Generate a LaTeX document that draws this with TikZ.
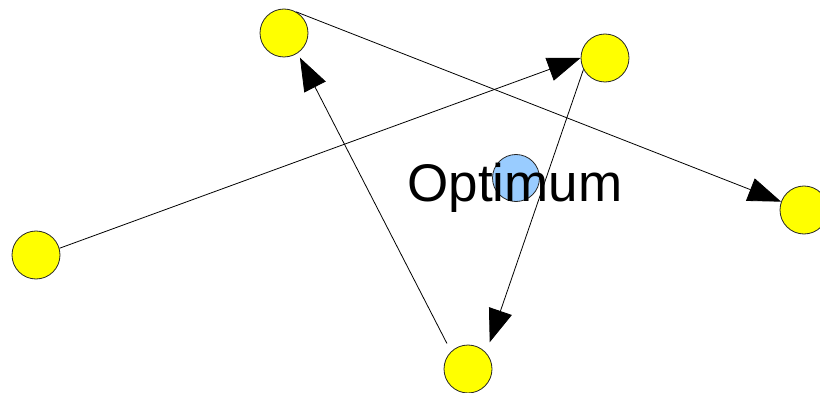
\documentclass[tikz,border=0pt]{standalone}
\usepackage{fontspec}
\setmainfont{Liberation Sans}
\usetikzlibrary{arrows.meta}
\definecolor{ballyellow}{HTML}{FFFF00}
\definecolor{optblue}{HTML}{99CCFF}
\begin{document}
\begin{tikzpicture}[x=1pt,y=-1pt,
  ball/.style={circle,draw=black!85,line width=0.8pt,fill=ballyellow,minimum size=48pt,inner sep=0pt},
  optball/.style={circle,draw=black!85,line width=0.8pt,fill=optblue,minimum size=47pt,inner sep=0pt},
  conn/.style={line width=0.8pt,-{Triangle[length=33pt,width=24pt]}}]
\useasboundingbox (0,0) rectangle (820,393);
% candidate points
\node[ball] (top) at (284,33) {};
\node[ball] (topright) at (605,58) {};
\node[ball] (right) at (804,210) {};
\node[ball] (left) at (36,255) {};
\node[ball] (bottom) at (468,369) {};
% the optimum and its label
\node[optball] (opt) at (516,178) {};
\node[anchor=base,inner sep=0pt,font=\fontsize{53}{60}\selectfont] (lbl) at (515,201) {Optimum};
% search moves
\draw[conn] (top.60) -- (right.160);
\draw[conn] (left.16) -- (topright.180);
\draw[conn,shorten >=11pt] (topright.208) -- (bottom.42);
\draw[conn,shorten <=9pt,shorten >=5pt] (bottom.134) -- (top.304);
\end{tikzpicture}
\end{document}
